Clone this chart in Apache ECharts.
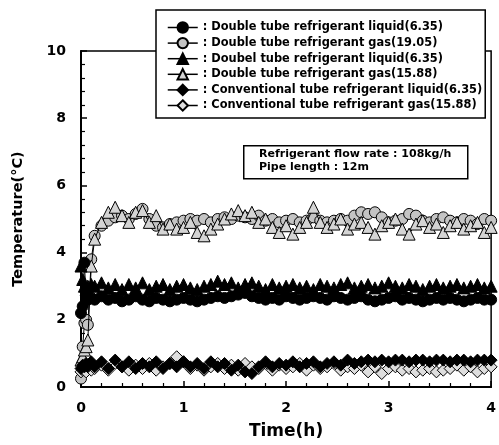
<!DOCTYPE html>
<html>
<head>
<meta charset="utf-8">
<script src="https://cdn.jsdelivr.net/npm/echarts@6/dist/echarts.min.js"></script>
<style>
  html, body { margin: 0; padding: 0; background: #fff; }
  #chart { width: 499px; height: 445px; }
</style>
</head>
<body>
<div id="chart"></div>
<script>
// time of each reading, in minutes
const timeMin = [0, 1, 2, 3, 4, 6, 8, 12, 16, 20, 24, 28, 32, 36, 40, 44, 48, 52, 56, 60,
  64, 68, 72, 76, 80, 84, 88, 92, 96, 100, 104, 108, 112, 116, 120, 124, 128, 132, 136, 140,
  144, 148, 152, 156, 160, 164, 168, 172, 176, 180, 184, 188, 192, 196, 200, 204, 208, 212, 216, 220,
  224, 228, 232, 236, 240];

const dtLiquid635 = [2.2, 2.4, 3.7, 2.6, 2.6, 2.65, 2.6, 2.7, 2.6, 2.65, 2.55, 2.6, 2.7, 2.6, 2.55, 2.65,
  2.6, 2.55, 2.6, 2.65, 2.6, 2.55, 2.6, 2.65, 2.7, 2.65, 2.7, 2.75, 2.8, 2.7, 2.65, 2.6, 2.65, 2.6, 2.7,
  2.65, 2.6, 2.65, 2.7, 2.65, 2.6, 2.7, 2.65, 2.6, 2.65, 2.7, 2.6, 2.55, 2.6, 2.65, 2.7, 2.6, 2.65, 2.6,
  2.55, 2.6, 2.65, 2.6, 2.65, 2.6, 2.55, 2.6, 2.65, 2.6, 2.6];

const dtGas1905 = [0.25, 1.2, 1.9, 2.0, 1.85, 3.8, 4.5, 4.8, 4.95, 5.05, 5.1, 5.0, 5.15, 5.3, 5.0, 4.8,
  4.75, 4.85, 4.9, 4.95, 5.0, 4.95, 5.0, 4.9, 5.0, 5.05, 5.0, 5.1, 5.05, 5.0, 5.1, 4.95, 5.0, 4.9, 4.95,
  5.0, 4.9, 4.95, 5.05, 4.95, 4.9, 4.95, 5.0, 4.95, 5.1, 5.2, 5.15, 5.2, 5.05, 4.9, 4.95, 5.0, 5.15, 5.1,
  4.95, 4.9, 5.0, 5.05, 4.95, 4.9, 5.0, 4.95, 4.85, 5.0, 4.95];

const dtLiquid635b = [3.6, 3.2, 3.0, 2.9, 3.0, 3.05, 3.0, 3.1, 2.95, 3.05, 2.9, 3.05, 2.95, 3.1, 2.9, 3.0,
  3.05, 2.9, 3.0, 3.05, 2.95, 2.9, 3.0, 3.05, 3.15, 3.05, 3.1, 2.95, 3.05, 3.1, 3.0, 2.9, 3.05, 2.95, 3.0,
  3.05, 2.95, 3.0, 2.9, 3.05, 3.0, 2.95, 3.05, 3.1, 2.95, 3.0, 3.05, 2.95, 3.0, 3.1, 3.0, 2.95, 3.05, 3.0,
  2.9, 3.0, 3.05, 2.95, 3.0, 3.05, 2.95, 3.0, 3.05, 2.95, 3.0];

const dtGas1588 = [0.8, 0.9, 1.1, 1.2, 1.4, 3.6, 4.4, 4.9, 5.2, 5.35, 5.1, 4.9, 5.2, 5.25, 4.9, 5.1,
  4.7, 4.85, 4.7, 4.75, 4.9, 4.6, 4.5, 4.7, 4.85, 5.0, 5.15, 5.25, 5.1, 5.2, 4.9, 5.0, 4.75, 4.6, 4.8,
  4.55, 4.75, 4.9, 5.35, 4.9, 4.75, 4.85, 5.0, 4.7, 4.85, 4.9, 4.75, 4.55, 4.8, 4.9, 5.0, 4.7, 4.55, 4.85,
  4.95, 4.75, 4.85, 4.6, 4.8, 4.9, 4.7, 4.8, 4.9, 4.6, 4.75];

const convLiquid635 = [0.55, 0.65, 0.6, 0.7, 0.6, 0.75, 0.6, 0.75, 0.55, 0.8, 0.6, 0.75, 0.55, 0.7, 0.6,
  0.75, 0.55, 0.7, 0.6, 0.75, 0.6, 0.7, 0.55, 0.75, 0.6, 0.7, 0.5, 0.65, 0.45, 0.4, 0.6, 0.75, 0.6, 0.7,
  0.65, 0.75, 0.6, 0.7, 0.75, 0.6, 0.7, 0.75, 0.65, 0.8, 0.7, 0.75, 0.8, 0.75, 0.8, 0.75, 0.8, 0.8, 0.75,
  0.8, 0.8, 0.75, 0.8, 0.8, 0.75, 0.8, 0.8, 0.75, 0.8, 0.8, 0.8];

const convGas1588 = [0.45, 0.5, 0.55, 0.45, 0.6, 0.5, 0.55, 0.65, 0.5, 0.7, 0.6, 0.5, 0.65, 0.55, 0.7,
  0.5, 0.6, 0.7, 0.9, 0.75, 0.55, 0.65, 0.5, 0.6, 0.7, 0.55, 0.65, 0.5, 0.7, 0.6, 0.55, 0.7, 0.5, 0.65,
  0.55, 0.6, 0.7, 0.5, 0.65, 0.55, 0.6, 0.7, 0.5, 0.6, 0.55, 0.65, 0.45, 0.6, 0.4, 0.55, 0.6, 0.5, 0.55,
  0.45, 0.5, 0.55, 0.45, 0.5, 0.55, 0.65, 0.5, 0.6, 0.45, 0.55, 0.6];

const seriesNames = [
  'Double tube refrigerant liquid(6.35)',
  'Double tube refrigerant gas(19.05)',
  'Doubel tube refrigerant liquid(6.35)',
  'Double tube refrigerant gas(15.88)',
  'Conventional tube refrigerant liquid(6.35)',
  'Conventional tube refrigerant gas(15.88)'
];
const xTickLabels = ['0', '1', '2', '3', '4'];
const yTickLabels = ['0', '2', '4', '6', '8', '10'];
const noteLines = ['Refrigerant flow rate : 108kg/h', 'Pipe length : 12m'];

const FONT = '"DejaVu Sans", "Liberation Sans", Arial, sans-serif';

function pairs(vals) {
  return vals.map((v, i) => [timeMin[i] / 60, v]);
}

function mkSeries(name, vals, symbol, fill, size, z) {
  return {
    name: name,
    type: 'line',
    data: pairs(vals),
    symbol: symbol,
    symbolSize: size,
    showAllSymbol: true,
    z: z,
    lineStyle: { color: '#000', width: 1 },
    itemStyle: { color: fill, borderColor: '#000', borderWidth: 1 },
    emphasis: { disabled: true },
    animation: false
  };
}

const chart = echarts.init(document.getElementById('chart'), null, { renderer: 'canvas' });

chart.setOption({
  backgroundColor: '#fff',
  animation: false,
  grid: {
    left: 81, top: 51, right: 3, bottom: 56,
    show: true, borderColor: '#000', borderWidth: 1.5, backgroundColor: 'transparent'
  },
  legend: {
    orient: 'vertical',
    left: 156, top: 10,
    padding: [11, 3, 6, 11],
    itemWidth: 30, itemHeight: 13, itemGap: 2.6,
    backgroundColor: '#fff',
    borderColor: '#000', borderWidth: 1.5,
    z: 10,
    selectedMode: false,
    lineStyle: { width: 1.5 },
    formatter: (name) => ': ' + name,
    textStyle: { color: '#000', fontSize: 11.4, fontWeight: 'bold', fontFamily: FONT, lineHeight: 13 },
    data: seriesNames
  },
  xAxis: {
    type: 'value',
    min: 0, max: 4, interval: 1,
    name: 'Time(h)', nameLocation: 'middle', nameGap: 36,
    nameTextStyle: { color: '#000', fontSize: 17, fontWeight: 'bold', fontFamily: FONT },
    axisLine: { onZero: false, lineStyle: { color: '#000', width: 2 } },
    axisTick: { inside: true, length: 6, lineStyle: { color: '#000', width: 1.5 } },
    minorTick: { show: true, splitNumber: 5, length: 4, lineStyle: { color: '#000', width: 1.2 } },
    splitLine: { show: false },
    axisLabel: {
      color: '#000', fontSize: 14, fontWeight: 'bold', fontFamily: FONT, margin: 14,
      formatter: (v) => xTickLabels[Math.round(v)]
    }
  },
  yAxis: {
    type: 'value',
    min: 0, max: 10, interval: 2,
    name: 'Temperature(°C)', nameLocation: 'middle', nameGap: 55,
    nameTextStyle: { color: '#000', fontSize: 14.5, fontWeight: 'bold', fontFamily: FONT },
    axisLine: { onZero: false, lineStyle: { color: '#000', width: 2 } },
    axisTick: { inside: true, length: 6, lineStyle: { color: '#000', width: 1.5 } },
    minorTick: { show: true, splitNumber: 5, length: 4, lineStyle: { color: '#000', width: 1.2 } },
    splitLine: { show: false },
    axisLabel: {
      color: '#000', fontSize: 14, fontWeight: 'bold', fontFamily: FONT, margin: 15,
      formatter: (v) => yTickLabels[Math.round(v / 2)]
    }
  },
  graphic: [
    {
      type: 'rect', left: 243, top: 145, z: 20,
      shape: { width: 224, height: 33 },
      style: { fill: '#fff', stroke: '#000', lineWidth: 1.5 }
    },
    {
      type: 'text', left: 259, top: 148, z: 21,
      style: {
        text: noteLines.join('\n'),
        fill: '#000', font: 'bold 11px ' + FONT, lineHeight: 13
      }
    }
  ],
  series: [
    mkSeries(seriesNames[1], dtGas1905, 'circle', '#c4c4c4', 11, 2),
    mkSeries(seriesNames[3], dtGas1588, 'triangle', '#d4d4d4', 12, 3),
    mkSeries(seriesNames[0], dtLiquid635, 'circle', '#000', 11, 4),
    mkSeries(seriesNames[2], dtLiquid635b, 'triangle', '#000', 12, 5),
    mkSeries(seriesNames[5], convGas1588, 'diamond', '#dedede', 12, 6),
    mkSeries(seriesNames[4], convLiquid635, 'diamond', '#000', 12, 7)
  ]
});
</script>
</body>
</html>
